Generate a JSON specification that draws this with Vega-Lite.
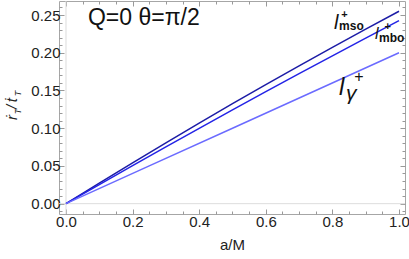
{
  "$schema": "https://vega.github.io/schema/vega-lite/v6.json",
  "width": 346,
  "height": 213,
  "autosize": {"type": "none"},
  "padding": {"left": 59, "top": 1, "right": 4, "bottom": 45},
  "config": {
    "view": {"stroke": "#a6a6a6", "strokeWidth": 1},
    "font": "Liberation Sans",
    "text": {"font": "Liberation Sans"}
  },
  "resolve": {"axis": {"x": "independent", "y": "independent"}},
  "layer": [
    {
      "data": {"values": [{"a": 0}]},
      "mark": {"type": "rule", "color": "#dddddd", "strokeWidth": 1},
      "encoding": {
        "x": {
          "field": "a", "type": "quantitative",
          "scale": {"domain": [-0.021, 1.018], "nice": false, "zero": false},
          "axis": {
            "orient": "top", "title": null, "labels": false, "domain": false, "grid": false,
            "values": [0,0.05,0.1,0.15,0.2,0.25,0.3,0.35,0.4,0.45,0.5,0.55,0.6,0.65,0.7,0.75,0.8,0.85,0.9,0.95,1.0],
            "tickColor": "#999999",
            "tickSize": {"condition": {"test": "abs(datum.value*5 - round(datum.value*5)) < 0.001", "value": -5}, "value": -3}
          }
        }
      }
    },
    {
      "data": {"values": [{"v": 0}]},
      "mark": {"type": "rule", "color": "#dddddd", "strokeWidth": 1},
      "encoding": {
        "y": {
          "field": "v", "type": "quantitative",
          "scale": {"domain": [-0.0137, 0.2686], "nice": false, "zero": false},
          "axis": {
            "orient": "right", "title": null, "labels": false, "domain": false, "grid": false,
            "values": [-0.01,0,0.01,0.02,0.03,0.04,0.05,0.06,0.07,0.08,0.09,0.1,0.11,0.12,0.13,0.14,0.15,0.16,0.17,0.18,0.19,0.2,0.21,0.22,0.23,0.24,0.25,0.26],
            "tickColor": "#999999",
            "tickSize": {"condition": {"test": "abs(datum.value*20 - round(datum.value*20)) < 0.001", "value": -5}, "value": -3}
          }
        }
      }
    },
    {
      "data": {
        "values": [
          {"curve": "mso", "a": 0, "v": 0},
          {"curve": "mso", "a": 0.1, "v": 0.0273},
          {"curve": "mso", "a": 0.2, "v": 0.0542},
          {"curve": "mso", "a": 0.3, "v": 0.0807},
          {"curve": "mso", "a": 0.4, "v": 0.1068},
          {"curve": "mso", "a": 0.5, "v": 0.1325},
          {"curve": "mso", "a": 0.6, "v": 0.1578},
          {"curve": "mso", "a": 0.7, "v": 0.1827},
          {"curve": "mso", "a": 0.8, "v": 0.2072},
          {"curve": "mso", "a": 0.9, "v": 0.2313},
          {"curve": "mso", "a": 1.0, "v": 0.255},
          {"curve": "mbo", "a": 0, "v": 0},
          {"curve": "mbo", "a": 0.1, "v": 0.0253},
          {"curve": "mbo", "a": 0.2, "v": 0.0504},
          {"curve": "mbo", "a": 0.3, "v": 0.0753},
          {"curve": "mbo", "a": 0.4, "v": 0.0999},
          {"curve": "mbo", "a": 0.5, "v": 0.1243},
          {"curve": "mbo", "a": 0.6, "v": 0.1484},
          {"curve": "mbo", "a": 0.7, "v": 0.1723},
          {"curve": "mbo", "a": 0.8, "v": 0.1959},
          {"curve": "mbo", "a": 0.9, "v": 0.2194},
          {"curve": "mbo", "a": 1.0, "v": 0.2425},
          {"curve": "gamma", "a": 0, "v": 0},
          {"curve": "gamma", "a": 0.25, "v": 0.05},
          {"curve": "gamma", "a": 0.5, "v": 0.1},
          {"curve": "gamma", "a": 0.75, "v": 0.15},
          {"curve": "gamma", "a": 1.0, "v": 0.2}
        ]
      },
      "mark": {"type": "line", "strokeWidth": 1.5},
      "encoding": {
        "x": {
          "field": "a", "type": "quantitative",
          "scale": {"domain": [-0.021, 1.018], "nice": false, "zero": false},
          "axis": {
            "orient": "bottom", "title": "a/M", "domain": false, "grid": false,
            "values": [0,0.05,0.1,0.15,0.2,0.25,0.3,0.35,0.4,0.45,0.5,0.55,0.6,0.65,0.7,0.75,0.8,0.85,0.9,0.95,1.0],
            "labelExpr": "abs(datum.value*5 - round(datum.value*5)) < 0.001 ? format(datum.value, '.1f') : ''",
            "tickColor": "#999999",
            "tickSize": {"condition": {"test": "abs(datum.value*5 - round(datum.value*5)) < 0.001", "value": -5}, "value": -3},
            "labelFontSize": 15, "labelColor": "#222222", "labelPadding": 5, "labelFlush": false, "labelOverlap": false,
            "titleFontSize": 15, "titleFontWeight": "normal", "titleColor": "#222222", "titlePadding": 6
          }
        },
        "y": {
          "field": "v", "type": "quantitative",
          "scale": {"domain": [-0.0137, 0.2686], "nice": false, "zero": false},
          "axis": {
            "orient": "left", "title": null, "domain": false, "grid": false,
            "values": [-0.01,0,0.01,0.02,0.03,0.04,0.05,0.06,0.07,0.08,0.09,0.1,0.11,0.12,0.13,0.14,0.15,0.16,0.17,0.18,0.19,0.2,0.21,0.22,0.23,0.24,0.25,0.26],
            "labelExpr": "abs(datum.value*20 - round(datum.value*20)) < 0.001 && datum.value > -0.001 ? format(datum.value, '.2f') : ''",
            "tickColor": "#999999",
            "tickSize": {"condition": {"test": "abs(datum.value*20 - round(datum.value*20)) < 0.001", "value": -5}, "value": -3},
            "labelFontSize": 15, "labelColor": "#222222", "labelPadding": 4, "labelFlush": false, "labelOverlap": false
          }
        },
        "color": {
          "field": "curve", "type": "nominal",
          "scale": {"domain": ["mso", "mbo", "gamma"], "range": ["#1c1ca6", "#2323e6", "#6b6bff"]},
          "legend": null
        }
      }
    },
    {
      "data": {"values": [{"a": -0.1471, "v": 0.1109, "t": "ṙ"}, {"a": -0.1471, "v": 0.1255, "t": "/"}, {"a": -0.1471, "v": 0.1345, "t": "ṫ"}]},
      "mark": {"type": "text", "fontSize": 15, "fontStyle": "italic", "angle": 270, "align": "left", "baseline": "alphabetic", "color": "#222222"},
      "encoding": {
        "x": {"field": "a", "type": "quantitative", "scale": {"domain": [-0.021, 1.018], "nice": false, "zero": false}, "axis": null},
        "y": {"field": "v", "type": "quantitative", "scale": {"domain": [-0.0137, 0.2686], "nice": false, "zero": false}, "axis": null},
        "text": {"field": "t"}
      }
    },
    {
      "data": {"values": [{"a": -0.1351, "v": 0.1185, "t": "T"}, {"a": -0.1351, "v": 0.1425, "t": "T"}]},
      "mark": {"type": "text", "fontSize": 9, "fontStyle": "italic", "angle": 270, "align": "left", "baseline": "alphabetic", "color": "#222222"},
      "encoding": {
        "x": {"field": "a", "type": "quantitative", "scale": {"domain": [-0.021, 1.018], "nice": false, "zero": false}, "axis": null},
        "y": {"field": "v", "type": "quantitative", "scale": {"domain": [-0.0137, 0.2686], "nice": false, "zero": false}, "axis": null},
        "text": {"field": "t"}
      }
    },
    {
      "data": {"values": [{"a": 0.066, "v": 0.2368, "t": "Q=0 θ=π/2"}]},
      "mark": {"type": "text", "fontSize": 23, "align": "left", "baseline": "alphabetic", "color": "#111111"},
      "encoding": {
        "x": {"field": "a", "type": "quantitative", "scale": {"domain": [-0.021, 1.018], "nice": false, "zero": false}, "axis": null},
        "y": {"field": "v", "type": "quantitative", "scale": {"domain": [-0.0137, 0.2686], "nice": false, "zero": false}, "axis": null},
        "text": {"field": "t"}
      }
    },
    {
      "data": {"values": [{"a": 0.805, "v": 0.2321, "t": "l"}]},
      "mark": {"type": "text", "fontSize": 20, "fontStyle": "italic", "align": "left", "baseline": "alphabetic", "color": "#111111"},
      "encoding": {
        "x": {"field": "a", "type": "quantitative", "scale": {"domain": [-0.021, 1.018], "nice": false, "zero": false}, "axis": null},
        "y": {"field": "v", "type": "quantitative", "scale": {"domain": [-0.0137, 0.2686], "nice": false, "zero": false}, "axis": null},
        "text": {"field": "t"}
      }
    },
    {
      "data": {"values": [{"a": 0.928, "v": 0.2178, "t": "l"}]},
      "mark": {"type": "text", "fontSize": 16, "fontStyle": "italic", "align": "left", "baseline": "alphabetic", "color": "#111111"},
      "encoding": {
        "x": {"field": "a", "type": "quantitative", "scale": {"domain": [-0.021, 1.018], "nice": false, "zero": false}, "axis": null},
        "y": {"field": "v", "type": "quantitative", "scale": {"domain": [-0.0137, 0.2686], "nice": false, "zero": false}, "axis": null},
        "text": {"field": "t"}
      }
    },
    {
      "data": {"values": [{"a": 0.82, "v": 0.144, "t": "l"}]},
      "mark": {"type": "text", "fontSize": 24, "fontStyle": "italic", "align": "left", "baseline": "alphabetic", "color": "#111111"},
      "encoding": {
        "x": {"field": "a", "type": "quantitative", "scale": {"domain": [-0.021, 1.018], "nice": false, "zero": false}, "axis": null},
        "y": {"field": "v", "type": "quantitative", "scale": {"domain": [-0.0137, 0.2686], "nice": false, "zero": false}, "axis": null},
        "text": {"field": "t"}
      }
    },
    {
      "data": {"values": [{"a": 0.82, "v": 0.2308, "t": "mso"}, {"a": 0.94, "v": 0.2149, "t": "mbo"}]},
      "mark": {"type": "text", "fontSize": 12, "fontWeight": "bold", "align": "left", "baseline": "alphabetic", "color": "#111111"},
      "encoding": {
        "x": {"field": "a", "type": "quantitative", "scale": {"domain": [-0.021, 1.018], "nice": false, "zero": false}, "axis": null},
        "y": {"field": "v", "type": "quantitative", "scale": {"domain": [-0.0137, 0.2686], "nice": false, "zero": false}, "axis": null},
        "text": {"field": "t"}
      }
    },
    {
      "data": {"values": [{"a": 0.836, "v": 0.2505, "t": "+"}, {"a": 0.966, "v": 0.2348, "t": "+"}]},
      "mark": {"type": "text", "fontSize": 11, "fontWeight": "bold", "align": "center", "baseline": "middle", "color": "#111111"},
      "encoding": {
        "x": {"field": "a", "type": "quantitative", "scale": {"domain": [-0.021, 1.018], "nice": false, "zero": false}, "axis": null},
        "y": {"field": "v", "type": "quantitative", "scale": {"domain": [-0.0137, 0.2686], "nice": false, "zero": false}, "axis": null},
        "text": {"field": "t"}
      }
    },
    {
      "data": {"values": [{"a": 0.88, "v": 0.168, "t": "+"}]},
      "mark": {"type": "text", "fontSize": 16, "align": "center", "baseline": "middle", "color": "#111111"},
      "encoding": {
        "x": {"field": "a", "type": "quantitative", "scale": {"domain": [-0.021, 1.018], "nice": false, "zero": false}, "axis": null},
        "y": {"field": "v", "type": "quantitative", "scale": {"domain": [-0.0137, 0.2686], "nice": false, "zero": false}, "axis": null},
        "text": {"field": "t"}
      }
    },
    {
      "data": {"values": [{"a": 0.841, "v": 0.1376, "t": "γ"}]},
      "mark": {"type": "text", "fontSize": 21, "fontStyle": "italic", "align": "left", "baseline": "alphabetic", "color": "#111111"},
      "encoding": {
        "x": {"field": "a", "type": "quantitative", "scale": {"domain": [-0.021, 1.018], "nice": false, "zero": false}, "axis": null},
        "y": {"field": "v", "type": "quantitative", "scale": {"domain": [-0.0137, 0.2686], "nice": false, "zero": false}, "axis": null},
        "text": {"field": "t"}
      }
    }
  ]
}
